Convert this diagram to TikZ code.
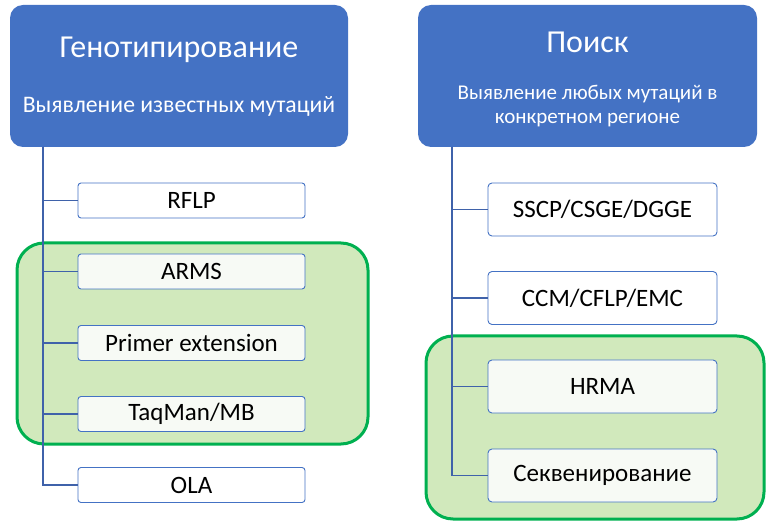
\documentclass[tikz,border=0pt]{standalone}
\usepackage{fontspec}
\setmainfont{Carlito}
\definecolor{hdrblue}{HTML}{4472C4}
\definecolor{connblue}{HTML}{3F62AA}
\definecolor{grnline}{HTML}{00B050}
\definecolor{grnfill}{HTML}{D1E9BC}
\definecolor{inbox}{HTML}{F7FAF5}
\tikzset{
  header/.style={fill=hdrblue, draw=none, rounded corners=13pt, minimum width=338pt, minimum height=142pt, inner sep=0pt},
  hdrtitle/.style={text=white, font=\fontsize{32}{36}\selectfont, inner sep=0pt},
  hdrsub/.style={text=white, inner sep=0pt, align=center},
  lbox/.style={draw=hdrblue, line width=0.9pt, fill=white, rounded corners=3pt, minimum width=227pt, minimum height=35pt, inner sep=0pt, font=\fontsize{25}{28}\selectfont},
  rbox/.style={draw=hdrblue, line width=0.9pt, fill=white, rounded corners=4pt, minimum width=229pt, minimum height=53pt, inner sep=0pt, font=\fontsize{25}{28}\selectfont},
  trunk/.style={draw=connblue, line width=1.8pt},
  conn/.style={draw=connblue, line width=1.1pt},
  group/.style={draw=grnline, line width=3pt, fill=grnfill, rounded corners=27pt}
}
\begin{document}
\begin{tikzpicture}[x=1pt,y=-1pt]
\useasboundingbox (0,0) rectangle (766,521);
\begin{scope}
  \clip (0,0) rectangle (766,521);
  \draw[group] (17,243) rectangle (368,444);
  \draw[group] (426,336) rectangle (764,519);
\end{scope}
% headers
\node[header] (lh) at (179,76) {};
\node[hdrtitle] (lht) at (179,50) {Генотипирование};
\node[hdrsub, font=\fontsize{23.7}{27}\selectfont] (lhs) at (179,106) {Выявление известных мутаций};
\node[header, minimum width=339pt] (rh) at (587.5,76) {};
\node[hdrtitle] (rht) at (587.5,42) {Поиск};
\node[hdrsub, font=\fontsize{21}{24}\selectfont] (rhs) at (587.5,106.5) {Выявление любых мутаций в\\конкретном регионе};
% trunk coordinates
\coordinate (lt) at (43,147);
\coordinate (rt) at (452,147);
% left boxes
\node[lbox] (rflp) at (191.5,200.5) {RFLP};
\node[lbox, fill=inbox] (arms) at (191.5,271.5) {ARMS};
\node[lbox, fill=inbox] (pext) at (191.5,343) {Primer extension};
\node[lbox, fill=inbox] (taq) at (191.5,414) {TaqMan/MB};
\node[lbox] (ola) at (191.5,485) {OLA};
% right boxes
\node[rbox] (sscp) at (602.5,209.5) {SSCP/CSGE/DGGE};
\node[rbox] (ccm) at (602.5,298) {CCM/CFLP/EMC};
\node[rbox, fill=inbox] (hrma) at (602.5,386.5) {HRMA};
\node[rbox, fill=inbox] (seq) at (602.5,475.5) {Секвенирование};
% connectors
\draw[trunk] (lt) -- (lt |- ola.west);
\draw[conn] (lt) |- (ola.west);
\draw[conn] (lt) |- (rflp.west);
\draw[conn] (lt) |- (arms.west);
\draw[conn] (lt) |- (pext.west);
\draw[conn] (lt) |- (taq.west);
\draw[trunk] (rt) -- (rt |- seq.west);
\draw[conn] (rt) |- (seq.west);
\draw[conn] (rt) |- (sscp.west);
\draw[conn] (rt) |- (ccm.west);
\draw[conn] (rt) |- (hrma.west);
\end{tikzpicture}
\end{document}
